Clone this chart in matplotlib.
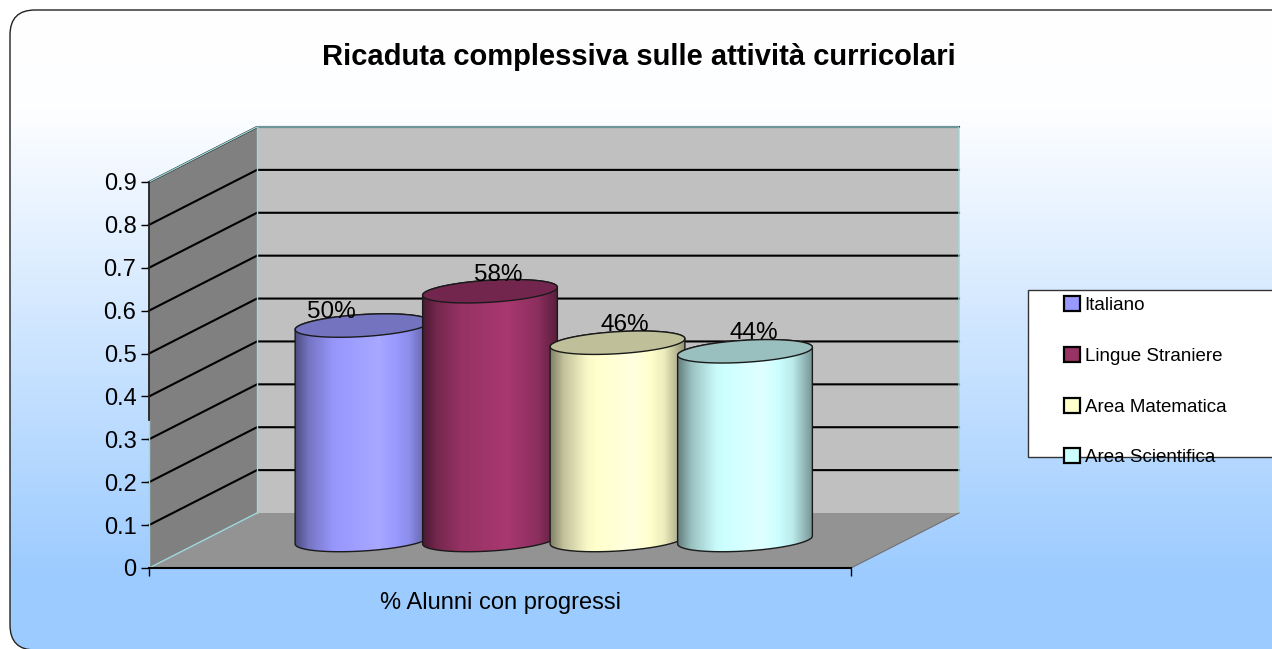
import numpy as np
import matplotlib
matplotlib.use("Agg")
import matplotlib.pyplot as plt
from matplotlib.patches import FancyBboxPatch, Polygon, Rectangle, Patch
from matplotlib.colors import to_rgb

# ---- data ----
title = "Ricaduta complessiva sulle attività curricolari"
category = "% Alunni con progressi"
series = ["Italiano", "Lingue Straniere", "Area Matematica", "Area Scientifica"]
values = [0.50, 0.58, 0.46, 0.44]
value_labels = ["50%", "58%", "46%", "44%"]
colors = ["#9999FF", "#993366", "#FFFFCC", "#CCFFFF"]
yticks = [0, 0.1, 0.2, 0.3, 0.4, 0.5, 0.6, 0.7, 0.8, 0.9]
ytick_labels = ["0", "0.1", "0.2", "0.3", "0.4", "0.5", "0.6", "0.7", "0.8", "0.9"]

W, H = 1272, 649
plt.rcParams["font.family"] = ["Liberation Sans", "DejaVu Sans"]
fig = plt.figure(figsize=(W / 100, H / 100), dpi=100, facecolor="white")

# ---- page background ----
bg = fig.add_axes([0, 0, 1, 1], zorder=0)
bg.set_xlim(0, W)
bg.set_ylim(H, 0)
bg.axis("off")
ys = np.arange(H)
f = np.interp(ys, [10, 112, 577], [0.0, 0.02, 1.0])
top, bot = np.array(to_rgb("#FFFFFF")), np.array(to_rgb("#9CCBFF"))
grad = (top[None, :] * (1 - f[:, None]) + bot[None, :] * f[:, None])[:, None, :]
frame = FancyBboxPatch((10, 10), 1320, 640, boxstyle="round,pad=0,rounding_size=25",
                       fc="none", ec="#222222", lw=1.0, zorder=3)
bg.add_patch(frame)
im = bg.imshow(grad, extent=(0, W, H, 0), aspect="auto", zorder=1)
im.set_clip_path(frame)
bg.set_xlim(0, W)
bg.set_ylim(H, 0)

# ---- chart axes: pixel box of the front plane ----
L, R, T, B = 149, 851, 182, 568
ax = fig.add_axes([L / W, 1 - B / H, (R - L) / W, (B - T) / H], zorder=2)
ax.patch.set_alpha(0)
unit = 127.5                      # px per category slot
x0 = (362.5 - L) / unit
xlim = (-x0, (R - L) / unit - x0)
ax.set_xlim(*xlim)
ax.set_ylim(0, 0.9)
pxy = (B - T) / 0.9
DX, DY = 108 / unit, 55 / pxy     # depth shift of the back plane
xl, xr = xlim

ax.add_patch(Polygon([(xl, 0), (xl + DX, DY), (xl + DX, 0.9 + DY), (xl, 0.9)],
                     fc="#808080", ec="none", zorder=1, clip_on=False))
ax.add_patch(Polygon([(xl + DX, DY), (xr + DX, DY), (xr + DX, 0.9 + DY), (xl + DX, 0.9 + DY)],
                     fc="#C0C0C0", ec="none", zorder=1, clip_on=False))
ax.add_patch(Polygon([(xl, 0), (xr, 0), (xr + DX, DY), (xl + DX, DY)],
                     fc="#939393", ec="none", zorder=1, clip_on=False))

for v in yticks[1:]:
    ax.plot([xl, xl + DX, xr + DX], [v, v + DY, v + DY], color="black", lw=1.5,
            zorder=2, clip_on=False, solid_joinstyle="miter")

edge = "#9FD8D8"
for xs, vs in [([xl, xl + DX, xr + DX, xr + DX], [0.9, 0.9 + DY, 0.9 + DY, DY]),
               ([xl, xl + DX], [0, DY]),
               ([xl + DX, xl + DX], [DY, 0.9 + DY]),
               ([xl, xl], [0, 0.345])]:
    ax.plot(xs, vs, color=edge, lw=1.0, zorder=2.5, clip_on=False)
ax.plot([xr, xr + DX], [0, DY], color="#707070", lw=0.8, zorder=2.5, clip_on=False)

# ---- cylinders ----
a, b = 67.5 / unit, 11 / pxy
theta = np.radians(3.5)
base = 28 / pxy
sx, sy = 1 / unit, 1 / pxy


def ell(cx, cy, t):
    ex, ey = a / sx * np.cos(t), b / sy * np.sin(t)
    return (cx + (ex * np.cos(theta) - ey * np.sin(theta)) * sx,
            cy + (ex * np.sin(theta) + ey * np.cos(theta)) * sy)


pos = [0.0, 1.0, 2.0, 3.0]
stops = [0.0, 0.10, 0.28, 0.62, 0.85, 1.0]
shade = [0.50, 0.76, 0.98, 1.10, 0.92, 0.58]
for i, (p, val, col) in enumerate(zip(pos, values, colors)):
    c = np.array(to_rgb(col))
    z = 3 + i
    tb = np.linspace(np.pi, 2 * np.pi, 60)
    tt = np.linspace(0, np.pi, 60)
    xb, yb = ell(p, base, tb)
    xt, yt = ell(p, base + val, tt)
    body = Polygon(np.column_stack([np.r_[xb, xt], np.r_[yb, yt]]), closed=True,
                   fc="none", ec="#1a1a1a", lw=1.0, zorder=z + 0.2, clip_on=False)
    ax.add_patch(body)
    s = np.interp(np.linspace(0, 1, 200), stops, shade)
    g = np.clip(c[None, None, :] * s[None, :, None], 0, 1)
    img = ax.imshow(g, extent=(p - a, p + a, base - 0.05, base + val + 0.05),
                    aspect="auto", zorder=z, interpolation="bilinear", clip_on=True)
    img.set_clip_path(body)
    t_all = np.linspace(0, 2 * np.pi, 120)
    xe, ye = ell(p, base + val, t_all)
    ax.add_patch(Polygon(np.column_stack([xe, ye]), closed=True, fc=c * 0.75,
                         ec="#1a1a1a", lw=1.0, zorder=z + 0.3, clip_on=False))
ax.set_xlim(*xlim)
ax.set_ylim(0, 0.9)

# ---- value labels ----
label_dx = [-31 / unit, 8 / unit, 7 / unit, 9 / unit]
label_dy = [14 / pxy, 16 / pxy, 18 / pxy, 18 / pxy]
for p, val, txt, dx, dy in zip(pos, values, value_labels, label_dx, label_dy):
    ax.text(p + dx, base + val + dy, txt, ha="center", va="center", fontsize=17.5,
            color="black", zorder=10, clip_on=False)

# ---- axes furniture ----
for s_ in ("top", "right"):
    ax.spines[s_].set_visible(False)
ax.spines["bottom"].set_linewidth(1.5)
ax.spines["left"].set_bounds(0.345, 0.9)
ax.spines["left"].set_color("#222222")
ax.spines["left"].set_linewidth(1.3)
ax.set_yticks(yticks, ytick_labels, fontsize=17)
ax.tick_params(axis="y", length=5.5, width=1, pad=3.5)
ax.set_xticks([xl, xr], ["", ""])
ax.tick_params(axis="x", length=5.5, width=1)
ax.set_xticks([(xl + xr) / 2], [category], minor=True, fontsize=17)
ax.tick_params(axis="x", which="minor", length=0, pad=17)

# ---- title ----
fig.text(638.5 / W, 1 - 57 / H, title, ha="center", va="center", fontsize=21,
         fontweight="bold", color="black", zorder=10)

# ---- legend ----
bg.add_patch(Rectangle((1028, 290), 300, 167, fc="white", ec="#333333", lw=1.0, zorder=4))
handles = [Patch(facecolor=c, edgecolor="black", linewidth=1.6) for c in colors]
leg = fig.legend(handles, series, loc="upper left", bbox_to_anchor=(1064 / W, 1 - 296 / H),
                 frameon=False, fontsize=13.5, handlelength=0.85, handleheight=0.85,
                 handletextpad=0.25, labelspacing=1.75, borderpad=0, borderaxespad=0)
leg.set_zorder(10)

fig.savefig("out.png", dpi=100)
